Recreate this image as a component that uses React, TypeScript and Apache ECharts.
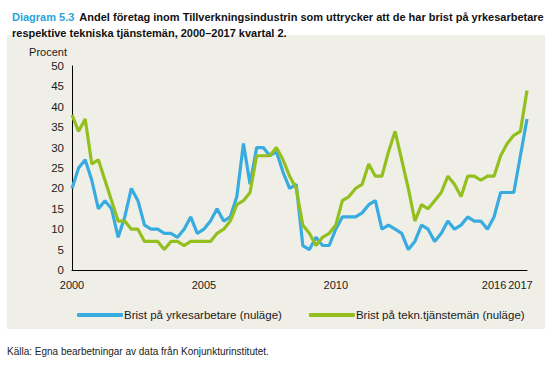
import React, { useEffect, useRef } from "react";
import * as echarts from "echarts";

const years = [2000, 2001, 2002, 2003, 2004, 2005, 2006, 2007, 2008, 2009, 2010, 2011, 2012, 2013, 2014, 2015, 2016, 2017];
const quartersLastYear = 2;
const categories: string[] = [];
years.forEach((y, i) => {
  const n = i === years.length - 1 ? quartersLastYear : 4;
  for (let q = 1; q <= n; q++) categories.push(`${y}K${q}`);
});

const tickYears = ["2000", "2005", "2010", "2016", "2017"];
const tickCategories = ["2000K1", "2005K1", "2010K1", "2016K1", "2017K1"];

const yrkesarbetare = [
  20, 25, 27, 22, 15, 17, 15, 8, 13, 20, 17, 11, 10, 10, 9,
  9, 8, 10, 13, 9, 10, 12, 15, 12, 13, 18, 31, 21, 30,
  30, 28, 29, 24, 20, 21, 6, 5, 8, 6, 6, 10, 13, 13,
  13, 14, 16, 17, 10, 11, 10, 9, 5, 7, 11, 10, 7, 9, 12,
  10, 11, 13, 12, 12, 10, 13, 19, 19, 19, 28, 37,
];

const teknTjanstemen = [
  38, 34, 37, 26, 27, 22, 17, 12, 12, 10, 10, 7, 7, 7, 5,
  7, 7, 6, 7, 7, 7, 7, 9, 10, 12, 16, 17, 19,
  28, 28, 28, 30, 27, 23, 20, 11, 9, 6, 8, 9, 11, 17, 18,
  20, 21, 26, 23, 23, 29, 34, 27, 20, 12, 16, 15, 17, 19, 23,
  21, 18, 23, 23, 22, 23, 23, 28, 31, 33, 34, 44,
];

const seriesNames = ["Brist på yrkesarbetare (nuläge)", "Brist på tekn.tjänstemän (nuläge)"];
const BLUE = "#38abe0";
const GREEN = "#93c01f";
const FONT = "'Liberation Sans', Arial, sans-serif";
const NARROW = "'Liberation Sans Narrow', " + FONT;

export default function App() {
  const ref = useRef<HTMLDivElement>(null);
  useEffect(() => {
    if (!ref.current) return;
    const chart = echarts.init(ref.current, undefined, { renderer: "svg" });
    chart.setOption({
      animation: false,
      backgroundColor: "#ffffff",
      textStyle: { fontFamily: FONT },
      title: {
        left: 7,
        top: 3,
        text:
          "{a|Diagram 5.3} {b|Andel företag inom Tillverkningsindustrin som uttrycker att de har brist på yrkesarbetare}\n{b|respektive tekniska tjänstemän, 2000–2017 kvartal 2.}",
        textStyle: {
          rich: {
            a: { color: "#2aa3dc", fontSize: 11, fontFamily: NARROW, lineHeight: 14 },
            b: { color: "#111", fontSize: 11, fontWeight: "bold", fontFamily: NARROW, lineHeight: 14 },
          },
        },
      },
      graphic: [
        {
          type: "rect",
          z: -10,
          silent: true,
          shape: { x: 7, y: 35, width: 538, height: 294 },
          style: { fill: "#efefe8" },
        },
        {
          type: "text",
          x: 67,
          y: 52,
          style: { text: "Procent", fill: "#1a1a1a", font: `11px ${FONT}`, textAlign: "right", textVerticalAlign: "middle" },
        },
        {
          type: "text",
          x: 7,
          y: 351,
          style: {
            text: "Källa: Egna bearbetningar av data från Konjunkturinstitutet.",
            fill: "#222",
            font: `10px ${FONT}`,
            textAlign: "left",
            textVerticalAlign: "middle",
          },
        },
      ],
      grid: { left: 72, right: 25, top: 66, bottom: 96 },
      legend: {
        left: 72,
        top: 304,
        itemWidth: 46,
        itemHeight: 4,
        itemGap: 27,
        icon: "roundRect",
        textStyle: { fontSize: 11.5, color: "#1a1a1a", fontFamily: FONT, padding: [0, 0, 0, -4] },
        data: seriesNames,
      },
      xAxis: {
        type: "category",
        data: categories,
        boundaryGap: false,
        axisLine: { lineStyle: { color: "#000", width: 1 } },
        axisTick: { show: false },
        axisLabel: {
          interval: (_i: number, v: string) => tickCategories.includes(v),
          formatter: (v: string) => tickYears[tickCategories.indexOf(v)] ?? "",
          color: "#1a1a1a",
          fontSize: 11,
          margin: 9,
        },
        splitLine: { show: false },
      },
      yAxis: {
        type: "value",
        min: 0,
        max: 50,
        interval: 5,
        axisLine: { show: true, lineStyle: { color: "#000", width: 1 } },
        axisTick: { show: false },
        splitLine: { show: false },
        axisLabel: { color: "#1a1a1a", fontSize: 11.5, margin: 8 },
      },
      series: [
        {
          name: seriesNames[0],
          type: "line",
          data: yrkesarbetare,
          showSymbol: false,
          lineStyle: { color: BLUE, width: 3.2 },
          itemStyle: { color: BLUE },
          z: 3,
        },
        {
          name: seriesNames[1],
          type: "line",
          data: teknTjanstemen,
          showSymbol: false,
          lineStyle: { color: GREEN, width: 3.2 },
          itemStyle: { color: GREEN },
          z: 4,
        },
      ],
    });
    return () => chart.dispose();
  }, []);
  return <div ref={ref} style={{ position: "fixed", left: 0, top: 0, width: 552, height: 366 }} />;
}
